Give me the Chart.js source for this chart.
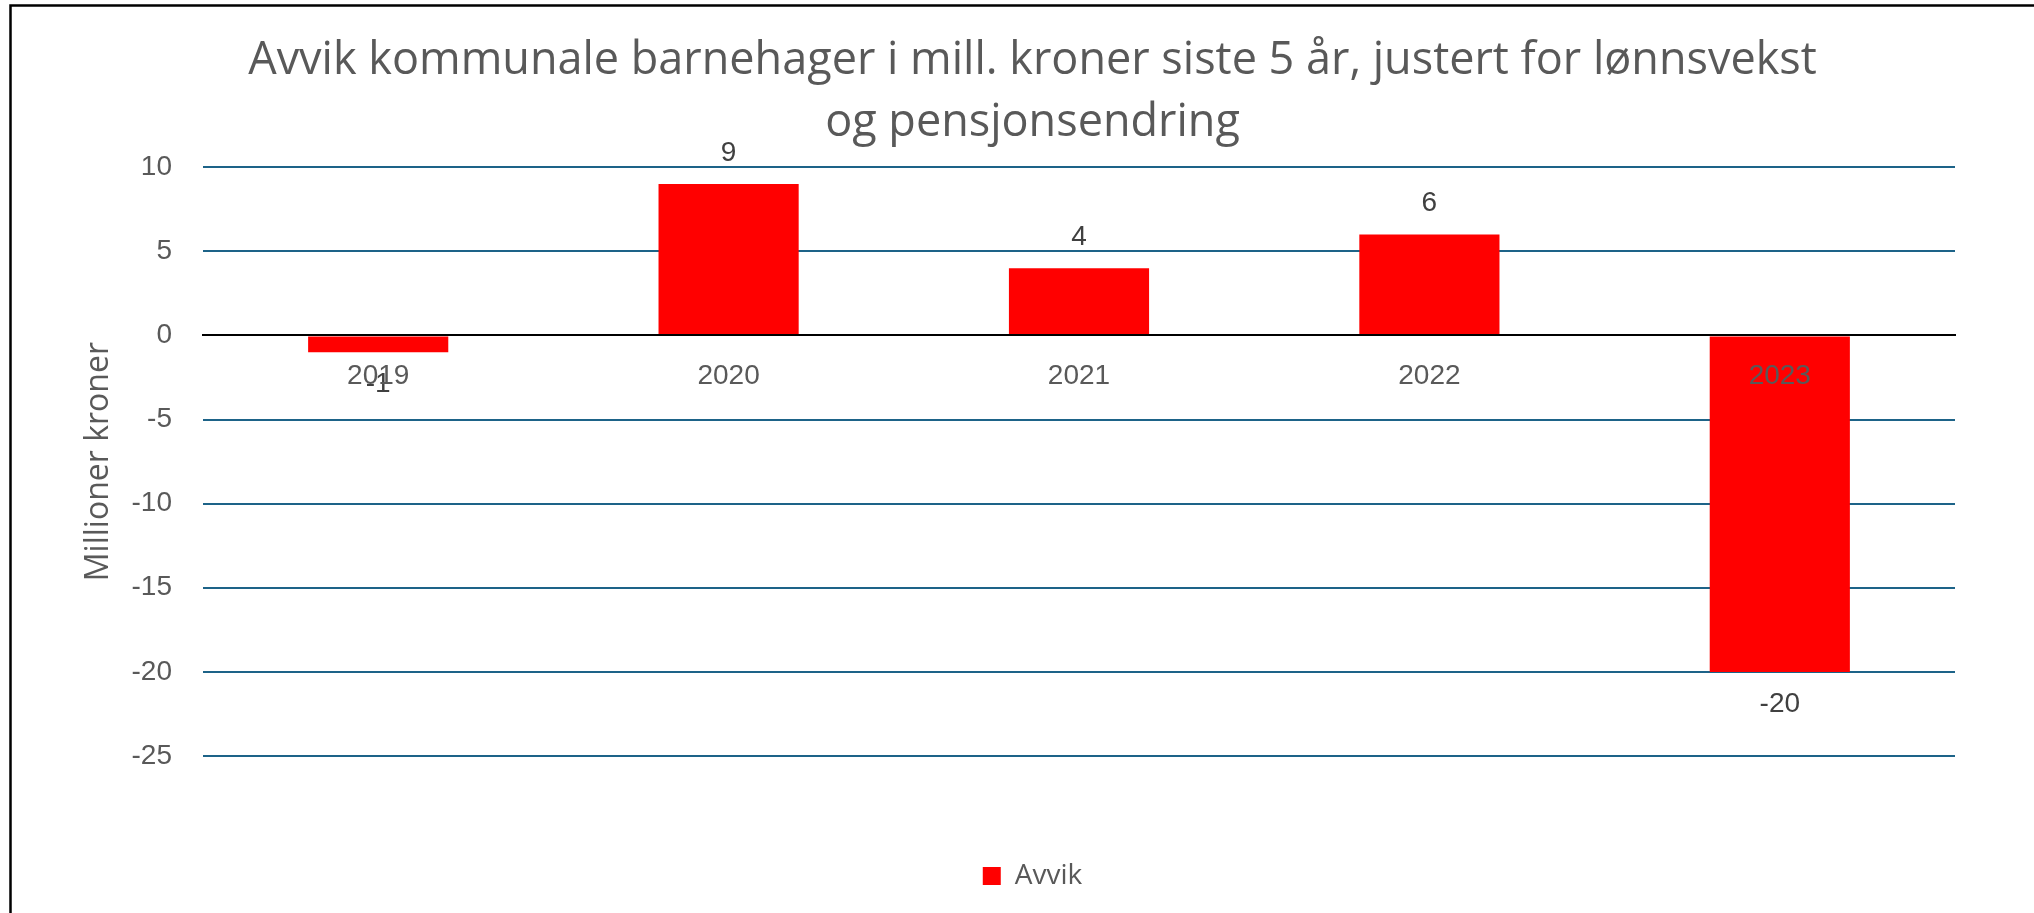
<!DOCTYPE html>
<html>
<head>
<meta charset="utf-8">
<script src="https://cdn.jsdelivr.net/npm/chart.js@4.4.1/dist/chart.umd.min.js"></script>
<style>
  html, body { margin: 0; padding: 0; background: #fff; }
  #wrap { width: 2034px; height: 913px; position: relative; }
</style>
</head>
<body>
<div id="wrap"><canvas id="chart"></canvas></div>
<script>
const years = ['2019', '2020', '2021', '2022', '2023'];
const avvik = [-1, 9, 4, 6, -20];
const titleLines = ['Avvik kommunale barnehager i mill. kroner siste 5 år, justert for lønnsvekst', 'og pensjonsendring'];
const yTitle = 'Millioner kroner';
const seriesName = 'Avvik';

const tickFont = { family: '"Liberation Sans", Arial, sans-serif', size: 28 };
const uiFont = '"Open Sans", "Noto Sans", sans-serif';

// thin black frame on the left and top, like the original chart box
const frame = {
    id: 'frame',
    afterDraw(chart){
        const ctx = chart.ctx;
        ctx.save();
        ctx.strokeStyle = '#000';
        ctx.lineWidth = 2.5;
        ctx.beginPath();
        ctx.moveTo(10.5, chart.height);
        ctx.lineTo(10.5, 5.5);
        ctx.lineTo(chart.width, 5.5);
        ctx.stroke();
        ctx.restore();
    }
};

// value above positive bars, below negative ones
const valueLabels = {
    id: 'valueLabels',
    afterDatasetsDraw(chart){
        const ctx = chart.ctx;
        const meta = chart.getDatasetMeta(0);
        ctx.save();
        ctx.font = '28px "Liberation Sans", Arial, sans-serif';
        ctx.fillStyle = '#404040';
        ctx.textAlign = 'center';
        ctx.textBaseline = 'middle';
        meta.data.forEach(function(bar, i){
            const v = avvik[i];
            const y = v < 0 ? bar.y + 32 : bar.y - 31;
            ctx.fillText(String(v), bar.x, y);
        });
        ctx.restore();
    }
};

// reserve the empty band between plot and legend
const legendSpace = {
    id: 'legendSpace',
    beforeInit(chart){
        const fit = chart.legend.fit;
        chart.legend.fit = function(){
            fit.call(this);
            this.height = 157;
        };
    }
};

new Chart(document.getElementById('chart'), {
    type: 'bar',
    data: {
        labels: years,
        datasets: [{
            label: seriesName,
            data: avvik,
            backgroundColor: '#FF0000',
            barPercentage: 0.4,
            categoryPercentage: 1.0
        }]
    },
    options: {
        responsive: true,
        maintainAspectRatio: false,
        animation: false,
        layout: { padding: { left: 110, right: 79, top: 0, bottom: 0 } },
        plugins: {
            title: {
                display: true,
                text: titleLines,
                color: '#595959',
                font: { family: uiFont, size: 45, weight: 'normal', lineHeight: 1.38 },
                padding: { top: 30, bottom: 13 }
            },
            legend: {
                position: 'bottom',
                labels: {
                    boxWidth: 18,
                    boxHeight: 18,
                    padding: 106,
                    color: '#595959',
                    font: { family: uiFont, size: 28 }
                }
            },
            tooltip: { enabled: false }
        },
        scales: {
            x: {
                position: { y: 0 },
                grid: { display: false, drawTicks: false },
                border: { color: '#000', width: 2, z: 1 },
                ticks: { color: '#595959', padding: 24, font: tickFont, z: 1 }
            },
            y: {
                min: -25,
                max: 10,
                ticks: { stepSize: 5, padding: 31, color: '#595959', font: tickFont },
                grid: { color: '#1D6388', lineWidth: 2, drawTicks: false },
                border: { display: false },
                title: {
                    display: true,
                    text: yTitle,
                    color: '#595959',
                    font: { family: uiFont, size: 32 },
                    padding: { top: -30, bottom: 0 }
                },
                afterFit(scale){
                    scale.width = 93;
                }
            }
        }
    },
    plugins: [frame, valueLabels, legendSpace]
});
</script>
</body>
</html>
